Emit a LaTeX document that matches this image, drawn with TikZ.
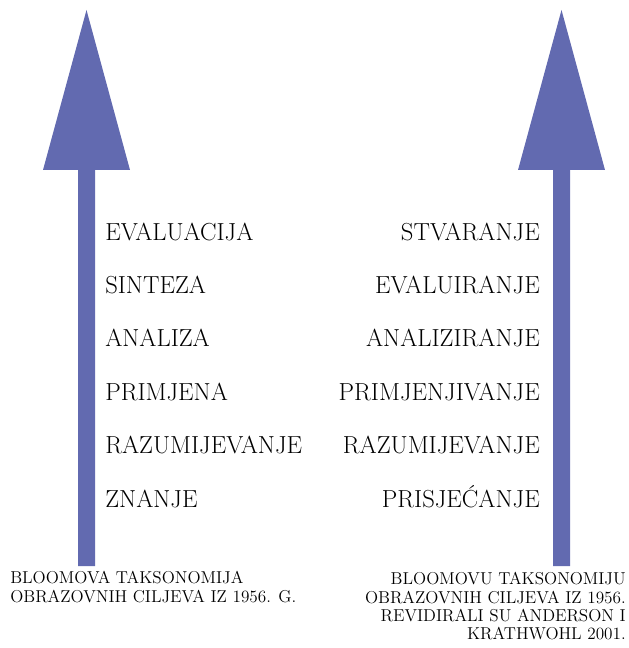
\documentclass[tikz,border=0pt]{standalone}
\usepackage{fontspec}
\usepackage{tikz}
\usetikzlibrary{positioning}
\definecolor{arrowblue}{RGB}{98,106,176}
\tikzset{
x=0.75pt, y=-0.75pt, % one unit is one pixel of the page
node distance=40.05pt, % baseline to baseline of the levels
levelL/.style={font=\fontsize{18.5}{20}\selectfont, anchor=base west, inner sep=0pt}, % left column
levelR/.style={font=\fontsize{18.5}{20}\selectfont, anchor=base east, inner sep=0pt}, % right column
bigarrow/.style={fill=arrowblue, draw=none}, % the two blue arrows
captionL/.style={font=\fontsize{12.9}{14}\selectfont, anchor=base west, inner sep=0pt}, % note under the left arrow
captionR/.style={font=\fontsize{12.9}{14}\selectfont, anchor=base east, inner sep=0pt}, % note under the right arrow
}

\begin{document}
\begin{tikzpicture}
    \useasboundingbox (0,0) rectangle (628,648);
    % arrows
    \fill[bigarrow] (78,566) -- (78,170) -- (43,170) -- (86.5,10) -- (130,170) -- (95,170) -- (95,566) -- cycle;
    \fill[bigarrow] (553,566) -- (553,170) -- (518,170) -- (561.5,10) -- (605,170) -- (570,170) -- (570,566) -- cycle;

    % 1956
    \node[levelL] (ev) at (105,240) {EVALUACIJA};
    \node[below=of ev.base west, levelL] (si) {SINTEZA};
    \node[below=of si.base west, levelL] (an) {ANALIZA};
    \node[below=of an.base west, levelL] (pr) {PRIMJENA};
    \node[below=of pr.base west, levelL] (ra) {RAZUMIJEVANJE};
    \node[below=of ra.base west, levelL] (zn) {ZNANJE};

    % 2001
    \node[levelR] (st) at (540,240) {STVARANJE};
    \node[below=of st.base east, levelR] (evr) {EVALUIRANJE};
    \node[below=of evr.base east, levelR] (anr) {ANALIZIRANJE};
    \node[below=of anr.base east, levelR] (prr) {PRIMJENJIVANJE};
    \node[below=of prr.base east, levelR] (rar) {RAZUMIJEVANJE};
    \node[below=of rar.base east, levelR] (psr) {PRISJEĆANJE};

    % notes
    \node[captionL] (capLa) at (10,583) {BLOOMOVA TAKSONOMIJA};
    \node[below=14.25pt of capLa.base west, captionL] (capLb) {OBRAZOVNIH CILJEVA IZ 1956. G.};
    \node[captionR] (capRa) at (626,584) {BLOOMOVU TAKSONOMIJU};
    \node[below=14.25pt of capRa.base east, captionR] (capRb) {OBRAZOVNIH CILJEVA IZ 1956.};
    \node[below=14pt of capRb.base east, captionR] (capRc) {REVIDIRALI SU ANDERSON I};
    \node[below=13.5pt of capRc.base east, captionR] (capRd) {KRATHWOHL 2001.};
\end{tikzpicture}
\end{document}
